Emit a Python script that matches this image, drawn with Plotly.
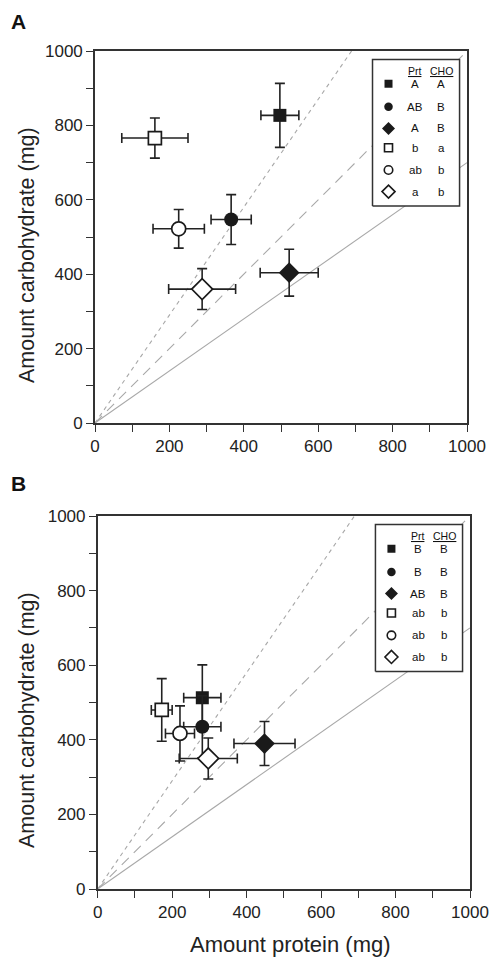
import plotly.graph_objects as go

# ---------------- data ----------------
symbols = ["square", "circle", "diamond", "square", "circle", "diamond"]
filled = [True, True, True, False, False, False]

# Panel A
protein_A = [497, 366, 522, 161, 225, 288]
protein_A_err = [51, 54, 78, 89, 69, 90]
carb_A = [827, 547, 404, 766, 522, 360]
carb_A_err = [86, 67, 63, 54, 52, 55]
prt_A = ["A", "AB", "A", "b", "ab", "a"]
cho_A = ["A", "B", "B", "a", "b", "b"]

# Panel B
protein_B = [281, 281, 448, 172, 221, 297]
protein_B_err = [50, 50, 82, 28, 39, 78]
carb_B = [513, 435, 390, 480, 417, 350]
carb_B_err = [88, 83, 59, 84, 74, 55]
prt_B = ["B", "B", "AB", "ab", "ab", "ab"]
cho_B = ["B", "B", "B", "b", "b", "b"]

# reference ratio lines (carbohydrate : protein)
ratio_slopes = [0.7, 1.0, 1.45]
ratio_x = [0, 1000]

tick_vals = [0, 200, 400, 600, 800, 1000]
tick_text = ["0", "200", "400", "600", "800", "1000"]

# ---------------- styling / layout constants ----------------
ratio_dash = ["solid", "10px,7px", "4px,4px"]
DARK = "#1a1a1a"
AXC = "#333333"
FONT = "Liberation Sans, Arial, Helvetica, sans-serif"
msize = {"square": 13, "circle": 14, "diamond": 16}
lsize = {"square": 8, "circle": 8.5, "diamond": 10}

legend_box = [746, 980, 583, 977]  # x0, x1, y0, y1 in data units
legend_sym_x = 789
legend_prt_x = 861
legend_cho_x = 931
legend_head_y = 946
legend_rows_y = [912, 850, 792, 740, 680, 622]

# page has an 8px body margin; the figure is sized so that it fits the window
OFF = 8
W, H = 498 - OFF, 960 - OFF


def fx(p):
    return (p - OFF) / W


def fy(p):
    return 1 - (p - OFF) / H


fig = go.Figure()

panels = [
    ("x", "y", protein_A, protein_A_err, carb_A, carb_A_err, prt_A, cho_A),
    ("x2", "y2", protein_B, protein_B_err, carb_B, carb_B_err, prt_B, cho_B),
]

annotations = []


def ann(**kw):
    base = dict(showarrow=False, xanchor="center", yanchor="middle")
    base.update(kw)
    annotations.append(base)


for xa, ya, px, pxe, cy, cye, prt, cho in panels:
    # reference lines
    for s, d in zip(ratio_slopes, ratio_dash):
        fig.add_trace(go.Scatter(
            x=ratio_x, y=[v * s for v in ratio_x], mode="lines",
            line=dict(color="#a8a8a8", width=1.1, dash=d),
            xaxis=xa, yaxis=ya, hoverinfo="skip", showlegend=False))
    # legend box
    bx0, bx1, by0, by1 = legend_box
    fig.add_trace(go.Scatter(
        x=[bx0, bx1, bx1, bx0, bx0], y=[by0, by0, by1, by1, by0],
        mode="lines", fill="toself", fillcolor="white",
        line=dict(color=AXC, width=1.5), xaxis=xa, yaxis=ya,
        hoverinfo="skip", showlegend=False))
    # data points with error bars
    for i in range(len(px)):
        sym = symbols[i]
        fig.add_trace(go.Scatter(
            x=[px[i]], y=[cy[i]], mode="markers",
            marker=dict(symbol=sym, size=msize[sym],
                        color=DARK if filled[i] else "white",
                        line=dict(color=DARK, width=0 if filled[i] else 1.7)),
            error_x=dict(type="data", array=[pxe[i]], color="#222", thickness=1.6, width=5),
            error_y=dict(type="data", array=[cye[i]], color="#222", thickness=1.6, width=5),
            xaxis=xa, yaxis=ya, showlegend=False))
    # legend symbols
    for i in range(len(px)):
        sym = symbols[i]
        fig.add_trace(go.Scatter(
            x=[legend_sym_x], y=[legend_rows_y[i]], mode="markers",
            marker=dict(symbol=sym, size=lsize[sym],
                        color=DARK if filled[i] else "white",
                        line=dict(color=DARK, width=0 if filled[i] else 1.6)),
            xaxis=xa, yaxis=ya, hoverinfo="skip", showlegend=False))
        ann(x=legend_prt_x, y=legend_rows_y[i], xref=xa, yref=ya, text=prt[i],
            font=dict(size=11.5, color="#111", family=FONT))
        ann(x=legend_cho_x, y=legend_rows_y[i], xref=xa, yref=ya, text=cho[i],
            font=dict(size=11.5, color="#111", family=FONT))
    ann(x=legend_prt_x, y=legend_head_y, xref=xa, yref=ya, text="<u>Prt</u>",
        font=dict(size=10.5, color="#111", family=FONT))
    ann(x=legend_cho_x, y=legend_head_y, xref=xa, yref=ya, text="<u>CHO</u>",
        font=dict(size=10.5, color="#111", family=FONT))

# axis titles and panel labels (positions in reference pixels)
ann(x=fx(27), y=fy(255), xref="paper", yref="paper", text="Amount carbohydrate (mg)",
    textangle=-90, font=dict(size=21.5, color="#222", family=FONT))
ann(x=fx(27), y=fy(720), xref="paper", yref="paper", text="Amount carbohydrate (mg)",
    textangle=-90, font=dict(size=21.5, color="#222", family=FONT))
ann(x=fx(290), y=fy(944), xref="paper", yref="paper", text="Amount protein (mg)",
    font=dict(size=22, color="#222", family=FONT))
ann(x=fx(9), y=fy(8.5), xref="paper", yref="paper", text="<b>A</b>", xanchor="left",
    yanchor="top", font=dict(size=21, color="#111", family=FONT))
ann(x=fx(9), y=fy(483), xref="paper", yref="paper", text="<b>B</b>", xanchor="left",
    font=dict(size=21, color="#111", family=FONT))

axis_common = dict(
    range=[0, 1000], showgrid=False, zeroline=False, showline=True, mirror=True,
    linecolor=AXC, linewidth=1.6, ticks="outside", ticklen=7, tickwidth=1.2,
    tickcolor=AXC, tickvals=tick_vals, ticktext=tick_text,
    tickfont=dict(size=17, color="#222", family=FONT),
    minor=dict(ticks="outside", ticklen=7, tickwidth=1.2, tickcolor=AXC, dtick=100, showgrid=False),
    fixedrange=True, automargin=False,
)

fig.update_layout(
    template="none",
    width=W, height=H, margin=dict(l=0, r=0, t=0, b=0, pad=0),
    paper_bgcolor="white", plot_bgcolor="white", showlegend=False,
    font=dict(family=FONT, color="#222"),
    xaxis=dict(domain=[fx(95), fx(467)], anchor="y", **axis_common),
    yaxis=dict(domain=[fy(423), fy(51)], anchor="x", **axis_common),
    xaxis2=dict(domain=[fx(97.7), fx(470)], anchor="y2", **axis_common),
    yaxis2=dict(domain=[fy(889), fy(516)], anchor="x2", **axis_common),
    annotations=annotations,
)

fig.write_html("out.html")
